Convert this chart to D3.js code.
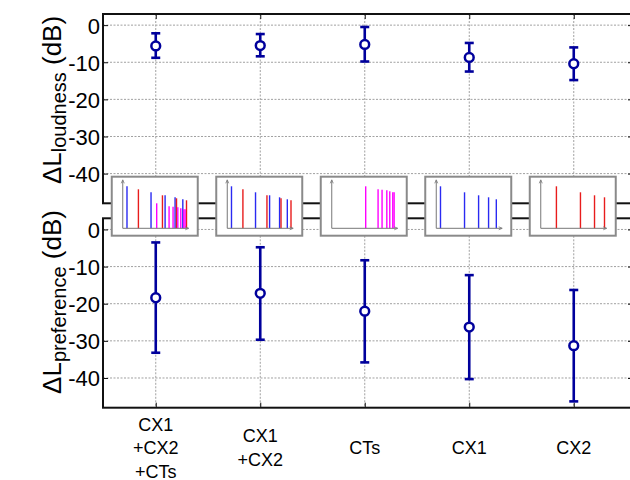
<!DOCTYPE html>
<html>
<head>
<meta charset="utf-8">
<script src="https://cdn.jsdelivr.net/npm/d3@7"></script>
<style>
  body { margin: 0; background: #fff; }
  svg text { font-family: "Liberation Sans", Arial, sans-serif; }
</style>
</head>
<body>
<svg id="chart" width="630" height="480"></svg>
<script>

// conditions on the x axis (multi line tick labels)
let conditions = [["CX1", "+CX2", "+CTs"], ["CX1", "+CX2"], ["CTs"], ["CX1"], ["CX2"]]

// loudness difference (dB): mean and error bar ends
let loudMean = [-5.6, -5.5, -5.2, -8.7, -10.4]
let loudHigh = [-2.2, -2.4, -0.5, -4.8, -6.0]
let loudLow = [-8.8, -8.4, -9.8, -12.5, -14.8]

// preference difference (dB)
let prefMean = [-18.4, -17.2, -22.0, -26.3, -31.3]
let prefHigh = [-3.5, -4.8, -8.3, -12.3, -16.3]
let prefLow = [-33.2, -29.7, -35.8, -40.3, -46.3]

let yTicks = [0, -10, -20, -30, -40]

// spectra shown in the small insets (frequency in Hz, level in dB)
let cx1Freq = [200, 400, 600, 800, 1000]
let cx1Level = [42, 36, 33, 31, 29]
let cx2Freq = [278, 556, 834, 1112]
let cx2Level = [42, 36, 33, 31]
let ctsFreq = [471, 673, 755, 866, 943, 1028, 1069]
let ctsLevel = [42, 39, 38.5, 38, 37, 36, 36]

// which sources are in each inset and their gain (dB)
let insetSources = [["CX1", "CX2", "CTs"], ["CX1", "CX2"], ["CTs"], ["CX1"], ["CX2"]]
let insetGain = [[0, -3, -17], [0, -3], [0], [0], [0]]

let spectra = {
    CX1: { freq: cx1Freq, level: cx1Level, color: "#2a2af2" },
    CX2: { freq: cx2Freq, level: cx2Level, color: "#e81c1c" },
    CTs: { freq: ctsFreq, level: ctsLevel, color: "#ff00ff" }
}

let navy = "#00009c"

let svg = d3.select('#chart')

let x = d3.scaleLinear().domain([0.5, 5.5]).range([103.5, 626])
let frameLeft = 103, frameRight = 633

let panels = [
    { top: 14, bottom: 203.3, mean: loudMean, hi: loudHigh, lo: loudLow, label: "loudness", labelY: 100 },
    { top: 218.3, bottom: 407.7, mean: prefMean, hi: prefHigh, lo: prefLow, label: "preference", labelY: 302 }
]

panels.forEach(function (p) {
    let y = d3.scaleLinear().domain([-48, 3]).range([p.bottom, p.top])
    let g = svg.append('g')

    // grid
    g.selectAll('.hgrid').data(yTicks).enter().append('line')
        .attr('x1', frameLeft).attr('x2', frameRight)
        .attr('y1', d => y(d)).attr('y2', d => y(d))
        .attr('stroke', '#a0a0a0').attr('stroke-dasharray', '2,1.5').attr('stroke-width', 1)
    g.selectAll('.vgrid').data(d3.range(1, 6)).enter().append('line')
        .attr('x1', d => x(d)).attr('x2', d => x(d))
        .attr('y1', p.top).attr('y2', p.bottom)
        .attr('stroke', '#a0a0a0').attr('stroke-dasharray', '2,1.5').attr('stroke-width', 1)

    // y axis (ticks inside, like matlab)
    let yAxis = g.append('g')
        .attr('transform', `translate(${frameLeft},0)`)
        .call(d3.axisRight(y).tickValues(yTicks).tickSize(5).tickFormat(d => String(d)))
    yAxis.select('.domain').remove()
    yAxis.selectAll('line').attr('stroke', '#111')
    yAxis.selectAll('text')
        .attr('x', -3).attr('text-anchor', 'end')
        .style('font-size', '22px').attr('fill', '#000').attr('dy', '0.36em')

    // right side ticks
    let yRight = g.append('g')
        .attr('transform', `translate(${frameRight},0)`)
        .call(d3.axisLeft(y).tickValues(yTicks).tickSize(5).tickFormat(''))
    yRight.select('.domain').remove()
    yRight.selectAll('line').attr('stroke', '#111')

    // x ticks top and bottom
    let xb = g.append('g').attr('transform', `translate(0,${p.bottom})`)
        .call(d3.axisTop(x).tickValues(d3.range(1, 6)).tickSize(5).tickFormat(''))
    xb.select('.domain').remove()
    xb.selectAll('line').attr('stroke', '#111')
    let xt = g.append('g').attr('transform', `translate(0,${p.top})`)
        .call(d3.axisBottom(x).tickValues(d3.range(1, 6)).tickSize(5).tickFormat(''))
    xt.select('.domain').remove()
    xt.selectAll('line').attr('stroke', '#111')

    // frame
    g.append('rect')
        .attr('x', frameLeft).attr('y', p.top)
        .attr('width', frameRight - frameLeft).attr('height', p.bottom - p.top)
        .attr('fill', 'none').attr('stroke', '#111').attr('stroke-width', 2)

    // error bars
    let idx = d3.range(p.mean.length)
    let eb = g.selectAll('.eb').data(idx).enter().append('g')
    eb.append('line')
        .attr('x1', i => x(i + 1)).attr('x2', i => x(i + 1))
        .attr('y1', i => y(p.hi[i])).attr('y2', i => y(p.lo[i]))
        .attr('stroke', navy).attr('stroke-width', 2.6)
    eb.append('line')
        .attr('x1', i => x(i + 1) - 4.5).attr('x2', i => x(i + 1) + 4.5)
        .attr('y1', i => y(p.hi[i])).attr('y2', i => y(p.hi[i]))
        .attr('stroke', navy).attr('stroke-width', 2.6)
    eb.append('line')
        .attr('x1', i => x(i + 1) - 4.5).attr('x2', i => x(i + 1) + 4.5)
        .attr('y1', i => y(p.lo[i])).attr('y2', i => y(p.lo[i]))
        .attr('stroke', navy).attr('stroke-width', 2.6)
    eb.append('circle')
        .attr('cx', i => x(i + 1)).attr('cy', i => y(p.mean[i]))
        .attr('r', 4.4)
        .attr('fill', '#fff').attr('stroke', navy).attr('stroke-width', 2.5)

    // y label: ΔL with subscript
    let lab = svg.append('text')
        .attr('transform', `translate(61,${p.labelY}) rotate(-90)`)
        .attr('text-anchor', 'middle')
        .attr('fill', '#000')
        .style('font-size', '26px')
    lab.append('tspan').text('ΔL')
    lab.append('tspan').attr('dy', 5).style('font-size', '20px').text(p.label)
    lab.append('tspan').attr('dy', -5).text(' (dB)')
})

// x tick labels below the lower panel
conditions.forEach(function (lines, i) {
    let t = svg.append('text')
        .attr('text-anchor', 'middle')
        .attr('fill', '#000')
        .style('font-size', '18px')
    let startY = 454 - (lines.length - 1) * 23.5 / 2
    lines.forEach(function (s, j) {
        t.append('tspan')
            .attr('x', x(i + 1))
            .attr('y', startY + j * 23.5)
            .text(s)
    })
})

// insets with the spectra, they sit between the two panels
let boxW = 86, boxH = 59, boxTop = 176.7
let fx = d3.scaleLog().domain([177, 1173]).range([0, 65.6])
let fy = d3.scaleLinear().domain([0, 48]).range([0, -48])

insetSources.forEach(function (srcs, i) {
    let bx = x(i + 1) - 44
    let ins = svg.append('g').attr('transform', `translate(${bx},${boxTop})`)

    ins.append('rect')
        .attr('x', 0).attr('y', 0).attr('width', boxW).attr('height', boxH)
        .attr('fill', '#fff').attr('stroke', '#8a8a8a').attr('stroke-width', 2)

    let ax = ins.append('g').attr('transform', `translate(11,51.6)`)

    // bars
    srcs.forEach(function (name, k) {
        let sp = spectra[name]
        ax.selectAll('.b' + name).data(sp.freq).enter().append('line')
            .attr('x1', (d) => fx(d)).attr('x2', (d) => fx(d))
            .attr('y1', 0)
            .attr('y2', (d, j) => fy(sp.level[j] + insetGain[i][k]))
            .attr('stroke', sp.color).attr('stroke-width', 1.4)
    })

    // little axes with arrows
    ax.append('line').attr('x1', 0).attr('x2', 0).attr('y1', 0).attr('y2', -48)
        .attr('stroke', '#777').attr('stroke-width', 1)
    ax.append('line').attr('x1', 0).attr('x2', 65.6).attr('y1', 0).attr('y2', 0)
        .attr('stroke', '#777').attr('stroke-width', 1)
    ax.append('path').attr('d', 'M-1.5,-45 L0,-48.5 L1.5,-45')
        .attr('fill', 'none').attr('stroke', '#777').attr('stroke-width', 0.8)
    ax.append('path').attr('d', 'M62.5,-1.5 L66,0 L62.5,1.5')
        .attr('fill', 'none').attr('stroke', '#777').attr('stroke-width', 0.8)
})

</script>
</body>
</html>
